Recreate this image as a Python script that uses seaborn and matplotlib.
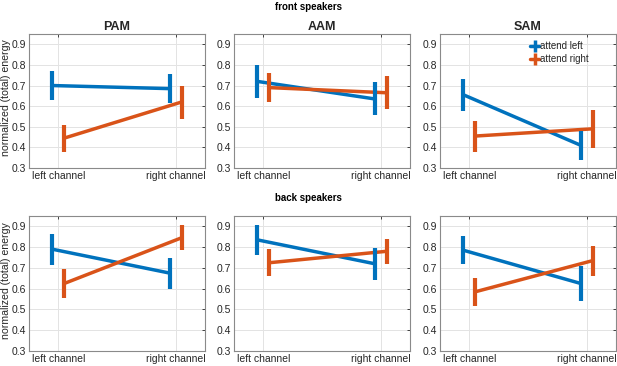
import numpy as np
import pandas as pd
import matplotlib
matplotlib.use("Agg")
import matplotlib.pyplot as plt
from matplotlib.lines import Line2D
import seaborn as sns

models = ["PAM", "AAM", "SAM"]
channels = ["left channel", "right channel"]
conditions = ["attend left", "attend right"]
rows = ["front speakers", "back speakers"]

front_attend_left = [[0.700, 0.685], [0.720, 0.635], [0.655, 0.410]]
front_attend_left_err = [[0.070, 0.072], [0.080, 0.080], [0.078, 0.070]]
front_attend_right = [[0.445, 0.620], [0.690, 0.665], [0.455, 0.490]]
front_attend_right_err = [[0.065, 0.080], [0.070, 0.080], [0.075, 0.092]]
back_attend_left = [[0.790, 0.675], [0.835, 0.720], [0.785, 0.625]]
back_attend_left_err = [[0.075, 0.075], [0.073, 0.078], [0.068, 0.085]]
back_attend_right = [[0.625, 0.845], [0.725, 0.780], [0.585, 0.735]]
back_attend_right_err = [[0.070, 0.060], [0.065, 0.060], [0.068, 0.072]]

yticks = [0.3, 0.4, 0.5, 0.6, 0.7, 0.8, 0.9]
ylabel = "normalized (total) energy"

sns.set_style("whitegrid")
plt.rcParams["font.family"] = ["Liberation Sans", "DejaVu Sans"]

colors = {"attend left": "#0072BD", "attend right": "#D95319"}
offsets = {"attend left": -0.05, "attend right": 0.05}

means = {
    "front speakers": {"attend left": front_attend_left, "attend right": front_attend_right},
    "back speakers": {"attend left": back_attend_left, "attend right": back_attend_right},
}
errs = {
    "front speakers": {"attend left": front_attend_left_err, "attend right": front_attend_right_err},
    "back speakers": {"attend left": back_attend_left_err, "attend right": back_attend_right_err},
}

W, H = 617, 366
fig = plt.figure(figsize=(W / 100, H / 100), dpi=100)

lefts = [29, 234, 440]
width = 176
row_boxes = {"front speakers": (34, 168), "back speakers": (216, 351)}
row_title_y = {"front speakers": 7, "back speakers": 198}

edge = "#262626"
for r in rows:
    top, bot = row_boxes[r]
    fig.text(0.5, 1 - row_title_y[r] / H, r, ha="center", va="center",
             fontweight="bold", fontsize=7, color="black")
    fig.text(6 / W, 1 - ((top + bot) / 2 - 3) / H, ylabel, rotation=90,
             ha="center", va="center", fontsize=7.6, color=edge)
    for mi, m in enumerate(models):
        ax = fig.add_axes([lefts[mi] / W, 1 - bot / H, width / W, (bot - top) / H])
        for c in conditions:
            x = np.arange(1, 3) + offsets[c]
            y = means[r][c][mi]
            e = errs[r][c][mi]
            df = pd.DataFrame({"x": x, "y": y})
            sns.lineplot(data=df, x="x", y="y", ax=ax, color=colors[c], lw=2.5,
                         legend=False, zorder=3)
            ax.errorbar(x, y, yerr=e, fmt="none", ecolor=colors[c], elinewidth=3,
                        capsize=0, zorder=4)
        ax.set_xlim(0.75, 2.25)
        ax.set_ylim(0.3, 0.95)
        ax.set_xticks([1, 2])
        ax.set_xticklabels(channels)
        ax.set_yticks(yticks)
        ax.set_yticklabels([f"{v:.1f}" for v in yticks])
        ax.set_xlabel("")
        ax.set_ylabel("")
        ax.grid(True, color="#e3e3e3", lw=0.7)
        ax.tick_params(axis="both", labelsize=7.5, colors=edge, direction="in",
                       length=2.5, width=0.6, pad=2, top=True, right=True,
                       labelcolor=edge)
        for s in ax.spines.values():
            s.set_color("#8a8a8a")
            s.set_linewidth(0.8)
            s.set_visible(True)
        if r == "front speakers":
            ax.set_title(m, fontweight="bold", fontsize=9, pad=3)
        if r == "front speakers" and m == "SAM":
            handles = [Line2D([], [], color=colors[c], lw=2.5, marker="|",
                              markersize=9, markeredgewidth=2.5) for c in conditions]
            ax.legend(handles, conditions, loc="upper right",
                      bbox_to_anchor=(0.88, 0.99), frameon=False,
                      fontsize=7, handlelength=1.0, handletextpad=0.1,
                      borderaxespad=0.2, labelspacing=0.3)

fig.savefig("out.png", dpi=100)
